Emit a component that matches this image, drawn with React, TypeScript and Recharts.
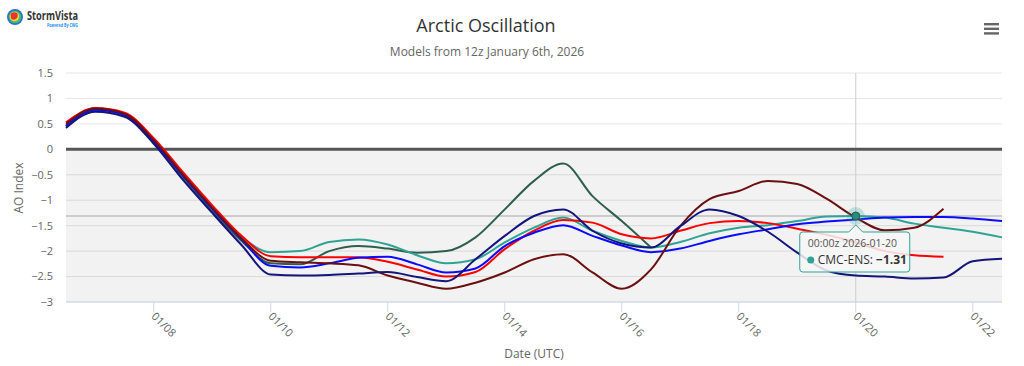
import {
  LineChart,
  Line,
  XAxis,
  YAxis,
  CartesianGrid,
  ReferenceArea,
  ReferenceLine,
  ReferenceDot,
} from "recharts";

// days of January 2026, 12-hourly from the 12z Jan 6th run
const days = [
  6.5, 7, 7.5, 8, 8.5, 9, 9.5, 10, 10.5, 11, 11.5, 12, 12.5, 13, 13.5, 14, 14.5,
  15, 15.5, 16, 16.5, 17, 17.5, 18, 18.5, 19, 19.5, 20, 20.5, 21, 21.5, 22, 22.5,
];

const ecEns = [
  0.53, 0.81, 0.72, 0.22, -0.45, -1.1, -1.7, -2.1, -2.12, -2.12, -2.12, -2.21,
  -2.36, -2.5, -2.41, -1.96, -1.6, -1.39, -1.44, -1.67, -1.75, -1.6, -1.45,
  -1.41, -1.45, -1.56, -1.68, -1.83, -2.0, -2.08, -2.11, null, null,
];

const gfsEns = [
  0.46, 0.78, 0.68, 0.16, -0.52, -1.17, -1.77, -2.29, -2.32, -2.24, -2.13,
  -2.11, -2.26, -2.42, -2.34, -1.9, -1.64, -1.49, -1.7, -1.89, -2.02, -1.95,
  -1.8, -1.67, -1.57, -1.47, -1.42, -1.38, -1.34, -1.33, -1.33, -1.36, -1.41,
];

const cmcEns = [
  0.47, 0.78, 0.68, 0.16, -0.52, -1.17, -1.72, -2.02, -2.0, -1.82, -1.77,
  -1.87, -2.08, -2.24, -2.16, -1.83, -1.54, -1.34, -1.6, -1.8, -1.93, -1.82,
  -1.65, -1.54, -1.49, -1.41, -1.32, -1.31, -1.34, -1.46, -1.54, -1.62, -1.73,
];

const ecmwf = [
  0.45, 0.76, 0.66, 0.13, -0.55, -1.22, -1.8, -2.24, -2.26, -2.0, -1.9, -1.95,
  -2.03, -2.0, -1.73, -1.18, -0.62, -0.28, -0.92, -1.41, -1.93, null, null,
  null, null, null, null, null, null, null, null, null, null,
];

const ecAifs = [
  0.5, 0.8, 0.7, 0.18, -0.5, -1.15, -1.75, -2.19, -2.22, -2.24, -2.28, -2.48,
  -2.62, -2.74, -2.62, -2.42, -2.16, -2.06, -2.42, -2.74, -2.36, -1.51, -0.98,
  -0.82, -0.62, -0.68, -0.97, -1.34, -1.59, -1.54, -1.17, null, null,
];

const gfs = [
  0.42, 0.74, 0.64, 0.11, -0.6, -1.25, -1.88, -2.46, -2.48, -2.47, -2.44,
  -2.41, -2.51, -2.59, -2.16, -1.7, -1.31, -1.18, -1.6, -1.85, -1.93, -1.51,
  -1.18, -1.31, -1.62, -2.03, -2.38, -2.48, -2.5, -2.54, -2.52, -2.2, -2.15,
];

const xTicks = [8, 10, 12, 14, 16, 18, 20, 22];
const yTicks = [-3, -2.5, -2, -1.5, -1, -0.5, 0, 0.5, 1, 1.5];

const hoverDay = 20;

const data = days.map((d, i) => ({
  day: d,
  ecEns: ecEns[i],
  gfsEns: gfsEns[i],
  cmcEns: cmcEns[i],
  ecmwf: ecmwf[i],
  ecAifs: ecAifs[i],
  gfs: gfs[i],
}));

const hoverValue = cmcEns[days.indexOf(hoverDay)] as number;

const pad = (n: number) => (n < 10 ? "0" + n : "" + n);
const fmtY = (v: number) => (v < 0 ? "\u2212" + Math.abs(v) : String(v));

const DateTick = (props: any) => {
  const { x, y, payload } = props;
  return (
    <text
      x={x - 3}
      y={y + 3}
      transform={`rotate(45 ${x - 3} ${y + 3})`}
      fontSize={11}
      fill="#666"
      textAnchor="start"
    >
      {"01/" + pad(payload.value)}
    </text>
  );
};

const HoverMark = (props: any) => {
  const { cx, cy } = props;
  const bx = cx - 56;
  const by = cy + 16;
  const bw = 110;
  const bh = 40;
  return (
    <g>
      <circle cx={cx} cy={cy} r={9} fill="#2fa394" fillOpacity={0.25} />
      <circle cx={cx} cy={cy} r={4} fill="#2a8a7e" stroke="#1d5c55" strokeWidth={1} />
      <path
        d={`M ${bx + 3} ${by} L ${cx - 7} ${by} L ${cx} ${cy + 9} L ${cx + 7} ${by} L ${bx + bw - 3} ${by} Q ${bx + bw} ${by} ${bx + bw} ${by + 3} L ${bx + bw} ${by + bh - 3} Q ${bx + bw} ${by + bh} ${bx + bw - 3} ${by + bh} L ${bx + 3} ${by + bh} Q ${bx} ${by + bh} ${bx} ${by + bh - 3} L ${bx} ${by + 3} Q ${bx} ${by} ${bx + 3} ${by} Z`}
        fill="#f7f7f7"
        fillOpacity={0.85}
        stroke="#2fa394"
        strokeWidth={1}
      />
      <text x={bx + 8} y={by + 15} fontSize={10.5} fill="#555">
        00:00z 2026-01-20
      </text>
      <circle cx={bx + 11} cy={by + 28} r={3.5} fill="#2fa394" />
      <text x={bx + 18} y={by + 32} fontSize={12} fill="#333">
        CMC-ENS:{" "}
        <tspan fontWeight="bold">{fmtY(hoverValue)}</tspan>
      </text>
    </g>
  );
};

export default function App() {
  return (
    <div
      style={{
        position: "absolute",
        left: 0,
        top: 0,
        width: 1024,
        height: 366,
        background: "#fff",
        fontFamily: "'Open Sans', sans-serif",
      }}
    >
      <LineChart
        width={1024}
        height={366}
        data={data}
        margin={{ top: 73, right: 22, left: 0, bottom: 0 }}
        style={{ fontFamily: "'Open Sans', sans-serif" }}
      >
        <CartesianGrid vertical={false} stroke="#e6e6e6" />
        <ReferenceArea y1={-3} y2={0} fill="#000" fillOpacity={0.05} stroke="none" />
        <XAxis
          dataKey="day"
          type="number"
          domain={[6.5, 22.5]}
          ticks={xTicks}
          height={64}
          stroke="#ccd6eb"
          tickSize={10}
          tick={<DateTick />}
          label={{ value: "Date (UTC)", position: "insideBottom", offset: 8, fill: "#666", fontSize: 12 }}
        />
        <YAxis
          domain={[-3, 1.5]}
          ticks={yTicks}
          width={66}
          axisLine={false}
          tickLine={false}
          tickMargin={7}
          tickFormatter={fmtY}
          tick={{ fontSize: 11, fill: "#666" }}
        />
        <ReferenceLine y={hoverValue} stroke="#cccccc" strokeWidth={2} />
        <ReferenceLine x={hoverDay} stroke="#cccccc" strokeWidth={1} />
        <ReferenceLine y={0} stroke="#555" strokeWidth={3} />
        <Line type="monotone" dataKey="ecmwf" name="ECMWF" stroke="#2e5e4e" strokeWidth={2} dot={false} activeDot={false} isAnimationActive={false} />
        <Line type="monotone" dataKey="cmcEns" name="CMC-ENS" stroke="#2fa394" strokeWidth={2} dot={false} activeDot={false} isAnimationActive={false} />
        <Line type="monotone" dataKey="ecEns" name="EC-ENS" stroke="#ff0000" strokeWidth={2} dot={false} activeDot={false} isAnimationActive={false} />
        <Line type="monotone" dataKey="gfsEns" name="GFS-ENS" stroke="#0a0aff" strokeWidth={2} dot={false} activeDot={false} isAnimationActive={false} />
        <Line type="monotone" dataKey="ecAifs" name="EC-AIFS" stroke="#6b1010" strokeWidth={2} dot={false} activeDot={false} isAnimationActive={false} />
        <Line type="monotone" dataKey="gfs" name="GFS" stroke="#14147a" strokeWidth={2} dot={false} activeDot={false} isAnimationActive={false} />
        <ReferenceDot x={hoverDay} y={hoverValue} shape={HoverMark} />
      </LineChart>

      {/* titles */}
      <div style={{ position: "absolute", left: 0, width: 972, top: 13, textAlign: "center", fontSize: 18, color: "#333" }}>
        Arctic Oscillation
      </div>
      <div style={{ position: "absolute", left: 0, width: 974, top: 43, textAlign: "center", fontSize: 12, color: "#666" }}>
        Models from 12z January 6th, 2026
      </div>

      {/* y axis title */}
      <div
        style={{
          position: "absolute",
          left: 18,
          top: 188,
          transform: "translate(-50%, -50%) rotate(-90deg)",
          fontSize: 12,
          color: "#666",
          whiteSpace: "nowrap",
        }}
      >
        AO Index
      </div>

      {/* logo */}
      <svg style={{ position: "absolute", left: 0, top: 0 }} width={110} height={34}>
        <circle cx={15} cy={17} r={8} fill="#2c6fd6" />
        <circle cx={15} cy={17} r={6.3} fill="#37c26a" />
        <circle cx={14.5} cy={16.5} r={4.8} fill="#f3d23a" />
        <path d="M 10.5 14 Q 13 11 17 13 Q 19 16 16 19 Q 12 21 11 18 Z" fill="#e5372b" />
        <text
          x={27}
          y={20}
          fontSize={11.5}
          fontWeight="bold"
          fill="#333"
          textLength={51}
          lengthAdjust="spacingAndGlyphs"
          fontFamily="'Open Sans', sans-serif"
        >
          StormVista
        </text>
        <text
          x={47}
          y={26.5}
          fontSize={4.5}
          fontWeight="bold"
          fill="#1e8ff0"
          textLength={31}
          lengthAdjust="spacingAndGlyphs"
          fontFamily="'Open Sans', sans-serif"
        >
          Powered By CWG
        </text>
      </svg>

      {/* menu icon */}
      <svg style={{ position: "absolute", left: 982, top: 20 }} width={20} height={16}>
        <rect x={2} y={3} width={15} height={2.4} fill="#666" />
        <rect x={2} y={7.6} width={15} height={2.4} fill="#666" />
        <rect x={2} y={12.2} width={15} height={2.4} fill="#666" />
      </svg>
    </div>
  );
}
